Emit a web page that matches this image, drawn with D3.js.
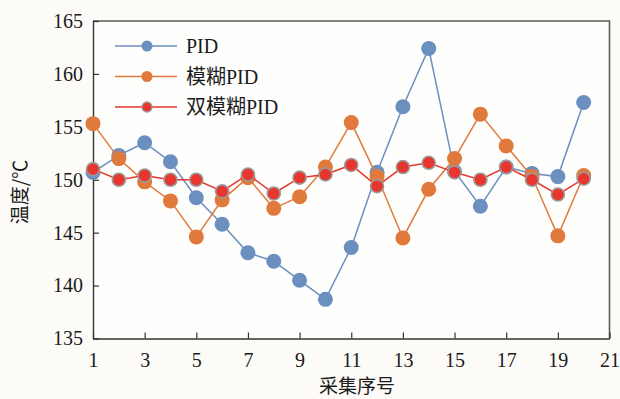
<!DOCTYPE html>
<html>
<head>
<meta charset="utf-8">
<script src="https://cdn.jsdelivr.net/npm/d3@7/dist/d3.min.js"></script>
<style>
  html, body { margin: 0; padding: 0; background: #fcfbf8; }
  svg { display: block; }
  text { fill: #1a1a1a; }
</style>
</head>
<body>
<svg id="chart" width="620" height="399"></svg>
<script>
// Sample index (采集序号) and temperature readings for three controllers
const samples = d3.range(1, 21);
const pidValues = [150.7, 152.3, 153.5, 151.7, 148.3, 145.8, 143.1, 142.3, 140.5, 138.7,
                   143.6, 150.7, 156.9, 162.4, 150.8, 147.5, 151.2, 150.6, 150.3, 157.3];
const fuzzyValues = [155.3, 152.0, 149.8, 148.0, 144.6, 148.1, 150.2, 147.3, 148.4, 151.2,
                     155.4, 150.3, 144.5, 149.1, 152.0, 156.2, 153.2, 150.3, 144.7, 150.4];
const dualFuzzyValues = [151.0, 150.0, 150.4, 150.0, 150.0, 148.9, 150.5, 148.7, 150.2, 150.5,
                         151.4, 149.4, 151.2, 151.6, 150.7, 150.0, 151.2, 150.0, 148.6, 150.1];
const seriesNames = ["PID", "模糊PID", "双模糊PID"];
const xTicks = [1, 3, 5, 7, 9, 11, 13, 15, 17, 19, 21];
const yTicks = [135, 140, 145, 150, 155, 160, 165];

const series = [
  { name: seriesNames[0], values: pidValues, color: "#6b8fbf", r: 7.5, stroke: null },
  { name: seriesNames[1], values: fuzzyValues, color: "#e07a3c", r: 7.5, stroke: null },
  { name: seriesNames[2], values: dualFuzzyValues, color: "#e8362f", r: 6.5, stroke: "#9a9a9a" }
];

const svg = d3.select("#chart");
const plotLeft = 93, plotRight = 609.5, plotTop = 21, plotBottom = 338.5;

const x = d3.scaleLinear().domain([1, 21]).range([plotLeft, plotRight]);
const y = d3.scaleLinear().domain([135, 165]).range([plotBottom, plotTop]);

const serif = "'Liberation Serif', 'Times New Roman', serif";
const cjk = "'Noto Sans CJK SC', sans-serif";

// plot background
svg.append("rect")
  .attr("x", plotLeft).attr("y", plotTop)
  .attr("width", plotRight - plotLeft).attr("height", plotBottom - plotTop)
  .attr("fill", "#fefefd");

// frame top / right
svg.append("path")
  .attr("d", `M${plotLeft},${plotTop}H${plotRight}V${plotBottom}`)
  .attr("fill", "none").attr("stroke", "#5a5a5a").attr("stroke-width", 1.6);

// axes with inward ticks
const xAxis = svg.append("g")
  .attr("transform", `translate(0,${plotBottom})`)
  .call(d3.axisBottom(x).tickValues(xTicks).tickSizeInner(-6).tickSizeOuter(0).tickPadding(14));
const yAxis = svg.append("g")
  .attr("transform", `translate(${plotLeft},0)`)
  .call(d3.axisLeft(y).tickValues(yTicks).tickSizeInner(-6).tickSizeOuter(0).tickPadding(10));

[xAxis, yAxis].forEach(g => {
  g.select(".domain").attr("stroke", "#333").attr("stroke-width", 1.4);
  g.selectAll(".tick line").attr("stroke", "#333").attr("stroke-width", 1.2);
  g.selectAll(".tick text")
    .attr("font-family", serif).attr("font-size", 20).attr("fill", "#1a1a1a");
});
xAxis.selectAll(".tick text").attr("dy", "0.71em");

// axis titles
svg.append("text")
  .attr("x", 357).attr("y", 393)
  .attr("text-anchor", "middle")
  .attr("font-family", cjk).attr("font-size", 19)
  .text("采集序号");

svg.append("text")
  .attr("transform", "translate(27,192) rotate(-90)")
  .attr("text-anchor", "middle")
  .attr("font-family", cjk).attr("font-size", 19)
  .text("温度/℃");

// series lines and markers
const line = d3.line().x((d, i) => x(samples[i])).y(d => y(d));

series.forEach(s => {
  const g = svg.append("g");
  g.append("path")
    .attr("d", line(s.values))
    .attr("fill", "none").attr("stroke", s.color).attr("stroke-width", 1.5);
  g.selectAll("circle")
    .data(s.values)
    .join("circle")
    .attr("cx", (d, i) => x(samples[i]))
    .attr("cy", d => y(d))
    .attr("r", s.r)
    .attr("fill", s.color)
    .attr("stroke", s.stroke || "none")
    .attr("stroke-width", s.stroke ? 1.6 : 0);
});

// legend
const legend = svg.append("g");
series.forEach((s, i) => {
  const ly = 46 + i * 30.5;
  legend.append("line")
    .attr("x1", 115).attr("x2", 177).attr("y1", ly).attr("y2", ly)
    .attr("stroke", s.color).attr("stroke-width", 1.5);
  legend.append("circle")
    .attr("cx", 147).attr("cy", ly).attr("r", s.stroke ? 5 : 5.5)
    .attr("fill", s.color)
    .attr("stroke", s.stroke || "none").attr("stroke-width", s.stroke ? 1.4 : 0);
  const t = legend.append("text")
    .attr("x", 186).attr("y", ly).attr("dy", "0.35em")
    .attr("font-size", 20);
  const m = s.name.match(/^([^A-Za-z]*)(PID)$/);
  if (m[1]) t.append("tspan").attr("font-family", cjk).text(m[1]);
  t.append("tspan").attr("font-family", serif).text(m[2]);
});
</script>
</body>
</html>
